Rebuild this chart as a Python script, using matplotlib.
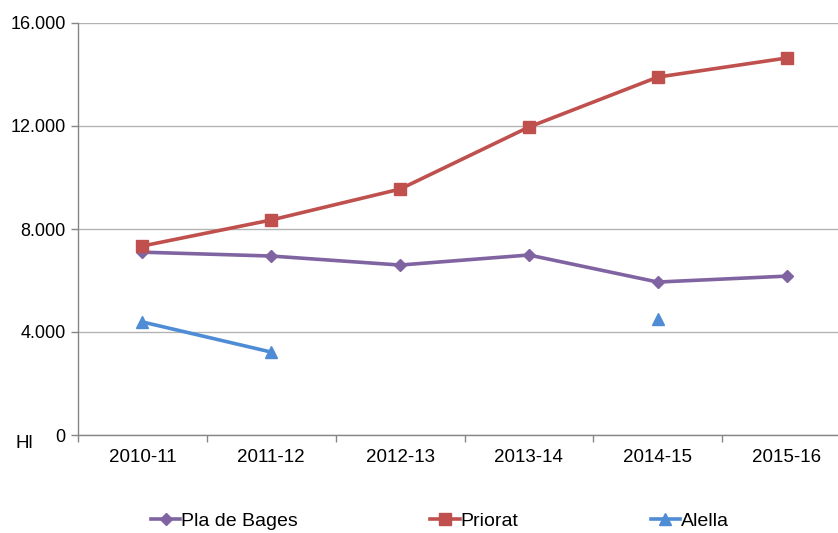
import numpy as np
import matplotlib
matplotlib.use("Agg")
import matplotlib.pyplot as plt

plt.rcParams['font.family'] = ['Liberation Sans', 'DejaVu Sans']

categories = ["2010-11", "2011-12", "2012-13", "2013-14", "2014-15", "2015-16"]
pla_de_bages = [7100, 6950, 6600, 6990, 5940, 6170]
priorat = [7340, 8350, 9550, 11960, 13900, 14640]
alella = [4390, 3220, np.nan, np.nan, 4500, np.nan]
yticks = [0, 4000, 8000, 12000, 16000]
ytick_labels = ["0", "4.000", "8.000", "12.000", "16.000"]

fig = plt.figure(figsize=(8.38, 5.33), dpi=100)
ax = fig.add_axes([78/838, 1-435/533, (851-78)/838, (435-23)/533])

x = np.arange(len(categories))
ax.plot(x, pla_de_bages, color="#8064A2", lw=2.6, marker="D", ms=6.5, label="Pla de Bages")
ax.plot(x, priorat, color="#C0504D", lw=2.6, marker="s", ms=8, label="Priorat")
ax.plot(x, alella, color="#4F8CD6", lw=2.6, marker="^", ms=9, label="Alella")

ax.set_xlim(-0.5, len(categories) - 0.5)
ax.set_ylim(0, 16000)
ax.set_yticks(yticks)
ax.set_yticklabels(ytick_labels, fontsize=13)
ax.set_xticks(x)
ax.set_xticklabels(categories, fontsize=13.5)
ax.set_xticks(np.arange(len(categories) + 1) - 0.5, minor=True)
ax.tick_params(axis='x', which='major', length=0, pad=10)
ax.tick_params(axis='x', which='minor', length=5, color="#868686", width=1)
ax.tick_params(axis='y', length=5, color="#868686", width=1, pad=4)
ax.yaxis.grid(True, color="#B3B3B3", lw=1)
ax.set_axisbelow(True)
for s in ["top", "right"]:
    ax.spines[s].set_visible(False)
for s in ["left", "bottom"]:
    ax.spines[s].set_color("#868686")
    ax.spines[s].set_linewidth(1)

fig.text(24/838, 1-444/533, "Hl", fontsize=13.5, ha="center", va="center")

fig.legend(loc="center", bbox_to_anchor=(440/838, 1-521/533), ncol=3, frameon=False,
           fontsize=14, columnspacing=6.8, handlelength=1.5, handletextpad=0.05)

fig.savefig("out.png", dpi=100)
